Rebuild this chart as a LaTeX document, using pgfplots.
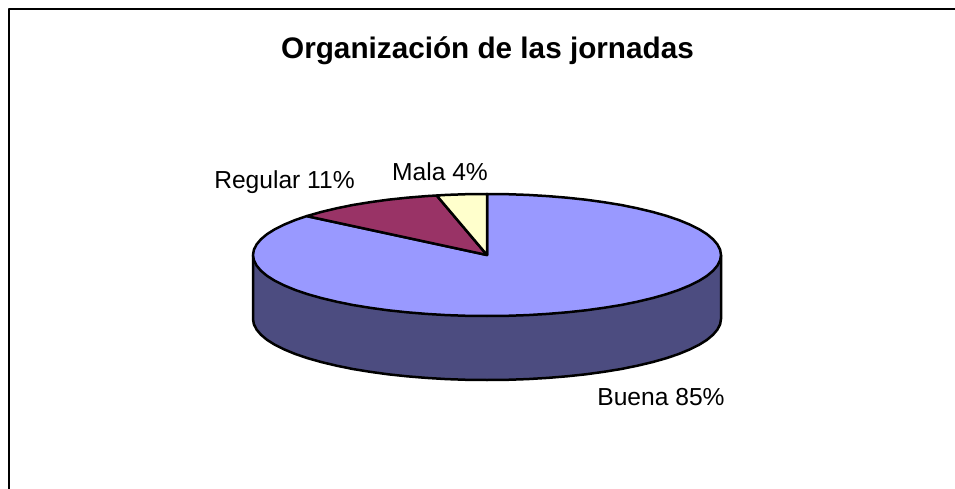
\documentclass[border=0pt]{standalone}
\usepackage{fontspec}
\setmainfont{Liberation Sans}
\usepackage{pgfplots}
\pgfplotsset{compat=1.18}
\definecolor{cBuena}{HTML}{9999FF}
\definecolor{cWall}{HTML}{4C4C80}
\definecolor{cRegular}{HTML}{993366}
\definecolor{cMala}{HTML}{FFFFCC}
\begin{document}
\begin{tikzpicture}[x=1pt,y=1pt]
\useasboundingbox (0,0) rectangle (955,489);
\begin{axis}[
  at={(0,0)},anchor=south west,
  scale only axis,width=955pt,height=489pt,
  xmin=0,xmax=955,ymin=0,ymax=489,y dir=reverse,
  axis line style={draw=none},ticks=none,
  clip=true,
  line join=round,
]
% frame (top and left only)
\addplot[black,line width=2pt,forget plot] coordinates {(8.5,489) (8.5,9.5) (955,9.5)};
% side wall of the disc (Buena)
\addplot[fill=cWall,draw=black,line width=2.5pt,forget plot] coordinates {
(721,255)(721,319)(720.1,324.3)(717.4,329.6)(713,334.8)(706.9,339.9)(699.1,344.8)(689.6,349.5)(678.7,354)(666.3,358.2)(652.5,362.1)(637.4,365.7)(621.2,369)(604,371.8)(585.9,374.3)(567,376.3)(547.6,377.9)(527.6,379.1)(507.4,379.8)(487,380)(466.6,379.8)(446.4,379.1)(426.4,377.9)(407,376.3)(388.1,374.3)(370,371.8)(352.8,369)(336.6,365.7)(321.5,362.1)(307.7,358.2)(295.3,354)(284.4,349.5)(274.9,344.8)(267.1,339.9)(261,334.8)(256.6,329.6)(253.9,324.3)(253,319)(253,255)} -- cycle;
% Buena 85%
\addplot[fill=cBuena,draw=black,line width=2.5pt,forget plot] coordinates {
(487,255)(487,194)(507.4,194.2)(527.6,194.9)(547.6,196.1)(567,197.7)(585.9,199.7)(604,202.2)(621.2,205)(637.4,208.3)(652.5,211.9)(666.3,215.8)(678.7,220)(689.6,224.5)(699.1,229.2)(706.9,234.1)(713,239.2)(717.4,244.4)(720.1,249.7)(721,255)
(720.1,260.3)(717.4,265.6)(713,270.8)(706.9,275.9)(699.1,280.8)(689.6,285.5)(678.7,290)(666.3,294.2)(652.5,298.1)(637.4,301.7)(621.2,305)(604,307.8)(585.9,310.3)(567,312.3)(547.6,313.9)(527.6,315.1)(507.4,315.8)(487,316)
(466.6,315.8)(446.4,315.1)(426.4,313.9)(407,312.3)(388.1,310.3)(370,307.8)(352.8,305)(336.6,301.7)(321.5,298.1)(307.7,294.2)(295.3,290)(284.4,285.5)(274.9,280.8)(267.1,275.9)(261,270.8)(256.6,265.6)(253.9,260.3)(253,255)
(253.9,249.7)(256.6,244.4)(261,239.2)(267.1,234.1)(274.9,229.2)(284.4,224.5)(295.3,220)(306.7,216.1)} -- cycle;
% Regular 11%
\addplot[fill=cRegular,draw=black,line width=2.5pt,forget plot] coordinates {
(487,255)(306.7,216.1)(321.5,211.9)(336.6,208.3)(352.8,205)(370,202.2)(388.1,199.7)(407,197.7)(426.4,196.1)(436.7,195.5)} -- cycle;
% Mala 4%
\addplot[fill=cMala,draw=black,line width=2.5pt,forget plot] coordinates {
(487,255)(436.7,195.5)(446.4,194.9)(466.6,194.2)(487,194)} -- cycle;
\node[anchor=base,inner sep=0pt,font=\fontsize{29.7}{34}\selectfont\bfseries] at (axis cs:487.5,59) {Organización de las jornadas};
\node[anchor=base,inner sep=0pt,font=\fontsize{24.6}{28}\selectfont] at (axis cs:661,405) {Buena 85\%};
\node[anchor=base,inner sep=0pt,font=\fontsize{24.6}{28}\selectfont] at (axis cs:284.5,189) {Regular 11\%};
\node[anchor=base,inner sep=0pt,font=\fontsize{24.6}{28}\selectfont] at (axis cs:440,181) {Mala 4\%};
\end{axis}
\end{tikzpicture}
\end{document}
